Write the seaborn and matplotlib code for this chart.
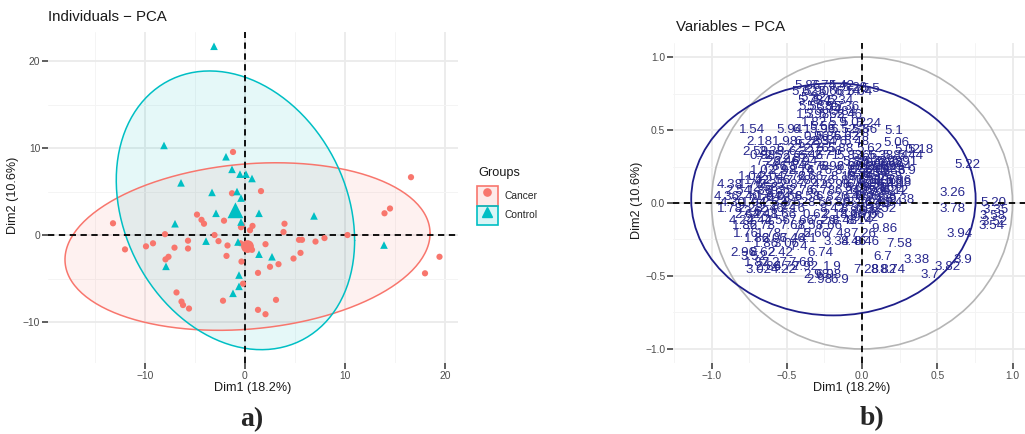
import numpy as np
import pandas as pd
import matplotlib
matplotlib.use("Agg")
import matplotlib.pyplot as plt
from matplotlib.patches import Ellipse, Circle, Patch
from matplotlib.lines import Line2D
from matplotlib.legend_handler import HandlerTuple
from matplotlib.ticker import MultipleLocator
import seaborn as sns

# ---------------- individuals (PCA scores) ----------------
cancer_dim1 = [-1.2, -1.3, 1.6, -13.2, -4.8, -4.35, -4.1, -2.1, -0.4, -0.3, 0.5, 0.75,
               3.95, 3.85, -8.0, -3.05, -5.7, -2.65, -9.2, -9.9, -1.75, -12.0, -7.05,
               -5.7, -1.85, -7.65, -7.95, -0.35, -0.2, -6.85, -6.35, -6.2, -5.6, -2.2,
               10.25, 5.4, 5.7, 7.95, 7.05, 2.05, 0.7, 5.55, 4.85, 3.35, 2.5, 1.3, 3.1,
               1.3, 2.05, 16.6, 13.95, 14.5, 19.45, 18.0, -0.45]
cancer_dim2 = [9.55, 4.8, 5.05, 1.35, 2.35, 1.75, 1.3, 1.65, 0.9, 1.15, 0.55, 1.05,
               1.3, 0.35, 0.1, 0.0, -0.65, -0.7, -0.95, -1.3, -1.2, -1.65, -1.45,
               -1.55, -2.4, -2.5, -2.8, -3.05, -5.6, -6.6, -7.65, -8.05, -8.45, -7.55,
               0.0, -0.55, -0.55, -0.35, -0.75, -1.05, -1.7, -2.05, -2.7, -3.35, -3.65,
               -4.35, -7.45, -8.6, -9.1, 6.65, 2.5, 3.05, -2.5, -4.4, -0.95]
control_dim1 = [-3.1, -8.1, -1.9, -1.3, -0.5, 0.1, 0.7, -6.4, -3.3, -0.8, -0.4, -2.9,
                -7.0, -0.4, 1.4, 6.9, -3.9, -0.7, 1.4, 2.7, -7.9, -0.6, -0.6, -1.2, 13.9]
control_dim2 = [21.7, 10.3, 9.0, 7.55, 7.0, 7.0, 6.5, 6.0, 4.9, 5.0, 4.25, 2.5,
                1.3, 1.5, 2.5, 2.2, -0.7, -0.8, -2.2, -2.5, -3.6, -4.6, -5.9, -6.7, -1.15]

groups = ["Cancer", "Control"]
group_colors = ["#F8766D", "#00BFC4"]

# ---------------- variables (correlation circle) ----------------
var_labels = [
    "5.86", "7.74", "5.42", "5.28", "5.5",
    "5.62", "5.90", "5.66", "6.14", "5.64",
    "5.78", "5.42", "5.34", "5.32",
    "5.5", "5.38", "5.7", "5.36", "5.74",
    "1.3", "5.98", "5.62", "5.46", "5.84",
    "1.82", "5.9", "5.02", "5.24", "5.56",
    "1.54", "5.94", "6.1", "5.96", "5.52", "5.56", "5.1",
    "0.96", "5.86", "5.62", "5.28",
    "2.18", "1.98", "6.28", "2.34", "5.76", "5.48", "5.06", "5.72",
    "6.22", "2.76", "5.88", "5.62", "5.02", "5.18",
    "2.59", "2.38", "6.22", "2.26",
    "0.98", "2.52", "6.46", "2.71", "5.83", "5.66", "5.38", "5.84", "5.44",
    "7.26", "2.46", "6.94", "5.88", "5.72", "5.98", "5.91", "2.82", "6.18", "6.06", "6.62",
    "7.86", "1.54", "6.78", "6.92", "6.88", "5.28", "5.66", "5.94", "5.22",
    "1.02", "2.92", "8.74", "6.76", "8.72", "6.52", "5.68", "5.38", "5.9", "6.42",
    "1.04", "2.04", "7.72", "6.66", "8.18", "6.74", "6.52", "5.58", "6.88", "6.34",
    "1.42", "2.56", "7.28", "6.76", "8.76", "6.28", "6.36", "5.86", "6.38",
    "4.38", "1.76", "2.35", "2.87", "7.42", "6.98", "6.68", "6.36", "6.48", "6.94",
    "2.54", "1.86", "1.35", "2.76", "6.78", "6.24", "6.92", "6.64", "6.24", "8.08",
    "6.16", "6.12", "2.58", "3.26",
    "4.36", "2.40", "1.64", "0.66", "8.58", "6.82", "6.44", "6.96", "6.58", "9.38",
    "1.92", "6.72", "2.74",
    "4.30", "1.94", "2.33", "8.52", "8.5", "6.86", "8.26", "6.46", "6.54", "5.20",
    "8.36", "6.26", "2.22",
    "1.78", "2.28", "2.46", "2.16", "8.42", "8.34", "6.32", "8.52", "3.78", "3.35",
    "8.24", "8.94", "2.62",
    "2.64", "2.48", "1.66", "0.62", "2.14", "8.66", "9.06", "3.58", "9.02",
    "4.24", "2.44", "2.56", "7.66", "7.26", "8.48", "8.14", "3.52",
    "1.86", "2.78", "7.68", "7.58", "7.66", "3.54",
    "9.86",
    "1.76", "1.78", "7.5", "2.66", "7.48", "7.26", "3.94",
    "1.86", "2.06", "7.46", "4.1",
    "3.34", "8.46", "8.46",
    "1.86", "3.06", "7.58",
    "7.4",
    "2.96", "8.62", "2.42", "6.74",
    "3.52", "6.7",
    "3.38", "3.9",
    "1.87", "2.27", "7.68",
    "2.86", "4.72", "7.92", "1.9", "3.82",
    "3.02", "4.22", "7.28", "8.82", "8.74",
    "2.98", "6.98", "3.7",
    "2.98", "6.9",
]
var_dim1 = [
    -0.36, -0.26, -0.14, -0.05, 0.06,
    -0.38, -0.30, -0.20, -0.10, -0.02,
    -0.34, -0.24, -0.14, -0.32,
    -0.36, -0.28, -0.18, -0.10, -0.22,
    -0.38, -0.30, -0.20, -0.08, -0.12,
    -0.32, -0.16, -0.06, 0.04, -0.26,
    -0.73, -0.48, -0.40, -0.26, -0.12, 0.02, 0.21,
    -0.30, -0.22, -0.10, -0.04,
    -0.68, -0.51, -0.36, -0.26, -0.18, -0.04, 0.23, -0.34,
    -0.48, -0.30, -0.14, 0.05, 0.30, 0.39,
    -0.71, -0.60, -0.40, -0.22,
    -0.66, -0.56, -0.34, -0.24, -0.08, 0.02, 0.12, 0.22, 0.32,
    -0.62, -0.50, -0.38, -0.04, 0.08, 0.18, 0.28, -0.44, -0.01, 0.09, 0.19,
    -0.58, -0.46, -0.30, -0.20, -0.08, 0.04, 0.14, 0.24, 0.70,
    -0.66, -0.52, -0.40, -0.28, -0.10, 0.00, 0.10, 0.20, 0.30, 0.15,
    -0.74, -0.60, -0.46, -0.34, -0.12, -0.02, 0.08, 0.18, -0.01, 0.09,
    -0.70, -0.56, -0.42, -0.26, -0.06, 0.04, 0.14, 0.24, 0.24,
    -0.88, -0.74, -0.60, -0.46, -0.32, -0.16, -0.02, 0.08, 0.18, 0.06,
    -0.82, -0.68, -0.54, -0.40, -0.26, -0.10, 0.00, 0.10, 0.20, -0.03,
    0.13, 0.22, -0.64, 0.60,
    -0.90, -0.76, -0.62, -0.48, -0.36, -0.22, -0.06, 0.04, 0.14, 0.26,
    -0.56, 0.06, -0.66,
    -0.86, -0.72, -0.58, -0.44, -0.30, -0.16, -0.02, 0.10, 0.18, 0.87,
    -0.04, 0.12, -0.52,
    -0.88, -0.74, -0.60, -0.46, -0.20, -0.06, 0.04, 0.14, 0.60, 0.89,
    0.10, 0.00, -0.70,
    -0.76, -0.64, -0.52, -0.31, -0.18, -0.06, 0.06, 0.87, 0.02,
    -0.80, -0.68, -0.56, -0.40, -0.26, -0.12, -0.02, 0.88,
    -0.78, -0.66, -0.46, -0.34, -0.22, 0.86,
    0.15,
    -0.77, -0.62, -0.40, -0.30, -0.16, 0.01, 0.65,
    -0.70, -0.58, -0.46, -0.36,
    -0.17, -0.06, 0.03,
    -0.64, -0.50, 0.25,
    -0.42,
    -0.79, -0.66, -0.54, -0.28,
    -0.72, 0.14,
    0.36, 0.67,
    -0.70, -0.58, -0.40,
    -0.62, -0.50, -0.38, -0.20, 0.57,
    -0.69, -0.52, 0.03, 0.14, 0.20,
    -0.30, -0.22, 0.45,
    -0.28, -0.15,
]
var_dim2 = [
    0.80, 0.80, 0.80, 0.79, 0.78,
    0.76, 0.76, 0.76, 0.76, 0.76,
    0.70, 0.70, 0.70, 0.72,
    0.66, 0.66, 0.66, 0.66, 0.64,
    0.60, 0.60, 0.60, 0.60, 0.62,
    0.55, 0.55, 0.55, 0.54, 0.52,
    0.50, 0.50, 0.50, 0.50, 0.50, 0.50, 0.49,
    0.45, 0.45, 0.45, 0.47,
    0.42, 0.42, 0.42, 0.42, 0.42, 0.42, 0.41, 0.40,
    0.37, 0.37, 0.37, 0.37, 0.36, 0.36,
    0.35, 0.35, 0.35, 0.35,
    0.32, 0.32, 0.32, 0.32, 0.32, 0.32, 0.32, 0.32, 0.32,
    0.28, 0.28, 0.28, 0.28, 0.28, 0.28, 0.28, 0.30, 0.27, 0.26, 0.27,
    0.25, 0.25, 0.25, 0.25, 0.25, 0.25, 0.25, 0.25, 0.26,
    0.22, 0.22, 0.22, 0.22, 0.22, 0.22, 0.22, 0.22, 0.22, 0.23,
    0.18, 0.18, 0.18, 0.18, 0.18, 0.18, 0.18, 0.18, 0.20, 0.20,
    0.15, 0.15, 0.15, 0.15, 0.15, 0.15, 0.15, 0.15, 0.14,
    0.12, 0.12, 0.12, 0.12, 0.12, 0.12, 0.12, 0.12, 0.12, 0.13,
    0.08, 0.08, 0.08, 0.08, 0.08, 0.08, 0.08, 0.08, 0.08, 0.10,
    0.10, 0.08, 0.10, 0.07,
    0.04, 0.04, 0.04, 0.04, 0.04, 0.04, 0.04, 0.04, 0.04, 0.02,
    0.06, 0.06, 0.02,
    0.00, 0.00, 0.00, 0.00, 0.00, 0.00, 0.00, 0.00, 0.00, 0.00,
    0.02, 0.02, -0.02,
    -0.04, -0.04, -0.04, -0.04, -0.04, -0.04, -0.04, -0.04, -0.04, -0.05,
    -0.02, -0.06, -0.06,
    -0.08, -0.08, -0.08, -0.08, -0.08, -0.08, -0.08, -0.09, -0.10,
    -0.12, -0.12, -0.12, -0.12, -0.12, -0.12, -0.12, -0.13,
    -0.16, -0.16, -0.16, -0.16, -0.16, -0.16,
    -0.18,
    -0.21, -0.21, -0.21, -0.21, -0.21, -0.21, -0.21,
    -0.25, -0.25, -0.25, -0.25,
    -0.27, -0.27, -0.27,
    -0.28, -0.28, -0.28,
    -0.30,
    -0.34, -0.34, -0.34, -0.34,
    -0.37, -0.37,
    -0.39, -0.39,
    -0.41, -0.41, -0.41,
    -0.44, -0.44, -0.44, -0.44, -0.44,
    -0.46, -0.46, -0.46, -0.46, -0.46,
    -0.49, -0.49, -0.49,
    -0.53, -0.53,
]
# ellipse around the variable coordinates: center, semi-axes
var_ellipse_center = (-0.19, 0.025)
var_ellipse_semi = (0.945, 0.795)

# ---------------- style ----------------
sns.set_theme(style="white")
plt.rcParams["font.family"] = ["Liberation Sans", "DejaVu Sans"]
plt.rcParams["axes.unicode_minus"] = True

GRID_MAJOR = "#EBEBEB"
GRID_MINOR = "#F4F4F4"
TICK_TXT = "#4D4D4D"
NAVY = "#28288E"


def style_axes(ax, major, minor):
    ax.xaxis.set_major_locator(MultipleLocator(major[0]))
    ax.yaxis.set_major_locator(MultipleLocator(major[1]))
    ax.xaxis.set_minor_locator(MultipleLocator(minor[0]))
    ax.yaxis.set_minor_locator(MultipleLocator(minor[1]))
    ax.grid(which="major", color=GRID_MAJOR, lw=1.3, zorder=0)
    ax.grid(which="minor", color=GRID_MINOR, lw=0.7, zorder=0)
    ax.set_axisbelow(True)
    for s in ax.spines.values():
        s.set_visible(False)
    ax.tick_params(which="major", length=4, width=1.1, color="#333333",
                   labelsize=7.4, labelcolor=TICK_TXT, pad=1.5,
                   bottom=True, left=True)
    ax.tick_params(which="minor", length=0)
    ax.set_xlabel("")
    ax.set_ylabel("")


def norm_ellipse(x, y, level=0.95, npts=240):
    xy = np.column_stack([x, y])
    n = len(xy)
    center = xy.mean(axis=0)
    cov = np.cov(xy, rowvar=False)
    df2 = n - 1
    fq = df2 / 2 * ((1 - level) ** (-2 / df2) - 1)  # F(2, n-1) quantile
    radius = np.sqrt(2 * fq)
    t = np.linspace(0, 2 * np.pi, npts)
    chol = np.linalg.cholesky(cov)
    return center + radius * (np.column_stack([np.cos(t), np.sin(t)]) @ chol.T)


fig = plt.figure(figsize=(10.25, 4.34), dpi=100)
W, H = 1025, 434
ax1 = fig.add_axes([48 / W, 1 - 363 / H, 410 / W, 331 / H])
ax2 = fig.add_axes([673 / W, 1 - 363 / H, 352 / W, 320 / H])

# ---------------- individuals panel ----------------
ind = pd.DataFrame({
    "Dim1": cancer_dim1 + control_dim1,
    "Dim2": cancer_dim2 + control_dim2,
    "Groups": ["Cancer"] * len(cancer_dim1) + ["Control"] * len(control_dim1),
})
palette = dict(zip(groups, group_colors))

for g, col in zip(groups, group_colors):
    sub = ind[ind["Groups"] == g]
    pts = norm_ellipse(sub["Dim1"].values, sub["Dim2"].values)
    ax1.fill(pts[:, 0], pts[:, 1], color=col, alpha=0.1, lw=0, zorder=1)
    ax1.plot(pts[:, 0], pts[:, 1], color=col, lw=1.1, zorder=2)

ax1.axhline(0, color="black", lw=1.3, ls=(0, (3.5, 2.5)), zorder=3)
ax1.axvline(0, color="black", lw=1.3, ls=(0, (3.5, 2.5)), zorder=3)

sns.scatterplot(data=ind, x="Dim1", y="Dim2", hue="Groups", style="Groups",
                size="Groups", hue_order=groups, style_order=groups,
                size_order=groups, palette=palette,
                markers={"Cancer": "o", "Control": "^"},
                sizes={"Cancer": 20, "Control": 30},
                linewidth=0, legend=False, ax=ax1, zorder=4)

centers = ind.groupby("Groups", as_index=False)[["Dim1", "Dim2"]].mean()
sns.scatterplot(data=centers, x="Dim1", y="Dim2", hue="Groups", style="Groups",
                size="Groups", hue_order=groups, style_order=groups,
                size_order=groups, palette=palette,
                markers={"Cancer": "o", "Control": "^"},
                sizes={"Cancer": 85, "Control": 130},
                linewidth=0, legend=False, ax=ax1, zorder=5)

ax1.set_xlim(-19.7, 21.3)
ax1.set_ylim(-14.71, 23.34)
style_axes(ax1, (10, 10), (5, 5))

# legend: title placed on its own, keys stacked below it
fig.text(478 / W, 1 - 173 / H, "Groups", fontsize=9.2, ha="left",
         va="center", color="#1A1A1A")
handles = [
    (Patch(facecolor=(0.973, 0.463, 0.427, 0.15), edgecolor=group_colors[0], lw=1.2),
     Line2D([], [], ls="", marker="o", color=group_colors[0], markersize=5.2)),
    (Patch(facecolor=(0.0, 0.749, 0.769, 0.15), edgecolor=group_colors[1], lw=1.2),
     Line2D([], [], ls="", marker="^", color=group_colors[1], markersize=6.8)),
]
leg = fig.legend(handles, groups, loc="upper left",
                 bbox_to_anchor=(477 / W, 1 - 186 / H), frameon=False,
                 handler_map={tuple: HandlerTuple(ndivide=1)},
                 fontsize=7.4, handlelength=2.0,
                 handleheight=2.55, labelspacing=0.0, handletextpad=0.7,
                 borderpad=0, borderaxespad=0)

# ---------------- variables panel ----------------
ax2.axhline(0, color="black", lw=1.3, ls=(0, (3.5, 2.5)), zorder=5)
ax2.axvline(0, color="black", lw=1.3, ls=(0, (3.5, 2.5)), zorder=5)
ax2.add_patch(Circle((0, 0), 1.0, fill=False, ec="#B5B5B5", lw=1.2, zorder=2))
ax2.add_patch(Ellipse(var_ellipse_center, 2 * var_ellipse_semi[0],
                      2 * var_ellipse_semi[1], fill=False, ec="#1E1E8A",
                      lw=1.3, zorder=3))
for lab, x, y in zip(var_labels, var_dim1, var_dim2):
    ax2.text(x, y, lab, color=NAVY, fontsize=9.6, ha="center", va="center",
             zorder=4)

ax2.set_xlim(-1.256, 1.083)
ax2.set_ylim(-1.096, 1.096)
style_axes(ax2, (0.5, 0.5), (0.25, 0.25))

# ---------------- titles and axis labels ----------------
fig.text(48 / W, 1 - 17 / H, "Individuals − PCA", fontsize=10.8, ha="left",
         va="center", color="#1A1A1A")
fig.text(676 / W, 1 - 27 / H, "Variables − PCA", fontsize=10.8, ha="left",
         va="center", color="#1A1A1A")
fig.text(253 / W, 1 - 388 / H, "Dim1 (18.2%)", fontsize=9.1, ha="center",
         va="center", color="#1A1A1A")
fig.text(852 / W, 1 - 388 / H, "Dim1 (18.2%)", fontsize=9.1, ha="center",
         va="center", color="#1A1A1A")
fig.text(13 / W, 1 - 195 / H, "Dim2 (10.6%)", fontsize=9.1, rotation=90,
         ha="center", va="center", color="#1A1A1A")
fig.text(637 / W, 1 - 200 / H, "Dim2 (10.6%)", fontsize=9.1, rotation=90,
         ha="center", va="center", color="#1A1A1A")

fig.text(252 / W, 1 - 420 / H, "a)", fontsize=20, fontweight="bold",
         family="Liberation Serif", ha="center", va="center")
fig.text(872 / W, 1 - 419 / H, "b)", fontsize=20, fontweight="bold",
         family="Liberation Serif", ha="center", va="center")

fig.savefig("out.png", dpi=100)
